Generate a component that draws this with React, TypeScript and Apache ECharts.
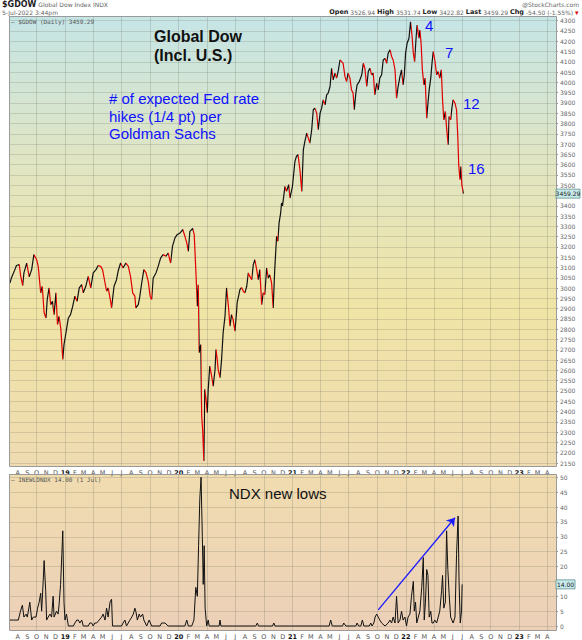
import React, { useEffect, useRef } from 'react';
import * as echarts from 'echarts';

// ---------- DATA ----------
const gdowDates = [
  '2018-07-07','2018-07-12','2018-07-23','2018-07-28','2018-08-06','2018-08-10','2018-08-17','2018-08-21','2018-08-30','2018-09-07','2018-09-15','2018-09-22','2018-10-01','2018-10-06','2018-10-14','2018-10-19','2018-10-25','2018-10-31','2018-11-04','2018-11-10','2018-11-15','2018-11-21','2018-11-26','2018-12-02','2018-12-07','2018-12-12','2018-12-18','2018-12-24','2018-12-28',
  '2019-01-05','2019-01-11','2019-01-18','2019-01-25','2019-02-01','2019-02-08','2019-02-15','2019-02-23','2019-02-28','2019-03-08','2019-03-16','2019-03-24','2019-04-01','2019-04-10','2019-04-17','2019-04-25','2019-05-01','2019-05-09','2019-05-14','2019-05-19','2019-05-27','2019-05-30','2019-06-07','2019-06-15','2019-06-20','2019-06-28','2019-07-06','2019-07-15','2019-07-23','2019-07-30','2019-08-06','2019-08-13','2019-08-16','2019-08-24','2019-08-29','2019-09-04','2019-09-11','2019-09-18','2019-09-25','2019-10-01','2019-10-06','2019-10-11','2019-10-20','2019-10-27','2019-11-04','2019-11-12','2019-11-21','2019-11-28','2019-12-06','2019-12-12','2019-12-20','2019-12-27',
  '2020-01-05','2020-01-14','2020-01-21','2020-01-27','2020-02-01','2020-02-06','2020-02-15','2020-02-20','2020-02-25','2020-03-01','2020-03-04','2020-03-07','2020-03-12','2020-03-15','2020-03-18','2020-03-22','2020-03-25','2020-03-29','2020-04-02','2020-04-05','2020-04-10','2020-04-16','2020-04-21','2020-04-27','2020-04-30','2020-05-04','2020-05-07','2020-05-13','2020-05-18','2020-05-23','2020-05-29','2020-06-03','2020-06-09','2020-06-14','2020-06-19','2020-06-24','2020-06-30','2020-07-05','2020-07-07','2020-07-16','2020-07-21','2020-07-27','2020-08-01','2020-08-07','2020-08-12','2020-08-17','2020-08-23','2020-08-28','2020-09-02','2020-09-08','2020-09-13','2020-09-18','2020-09-24','2020-09-29','2020-10-04','2020-10-10','2020-10-15','2020-10-20','2020-10-26','2020-10-31','2020-11-05','2020-11-11','2020-11-15','2020-11-19','2020-11-24','2020-11-27','2020-11-30','2020-12-08','2020-12-13','2020-12-20','2020-12-24',
  '2021-01-01','2021-01-09','2021-01-14','2021-01-19','2021-01-25','2021-01-31','2021-02-05','2021-02-10','2021-02-16','2021-02-21','2021-02-26','2021-03-04','2021-03-09','2021-03-14','2021-03-20','2021-03-25','2021-03-31','2021-04-05','2021-04-10','2021-04-16','2021-04-21','2021-04-26','2021-05-02','2021-05-07','2021-05-12','2021-05-18','2021-05-23','2021-05-28','2021-06-03','2021-06-08','2021-06-13','2021-06-19','2021-06-24','2021-06-29','2021-07-05','2021-07-10','2021-07-15','2021-07-19','2021-07-24','2021-07-28','2021-08-04','2021-08-12','2021-08-17','2021-08-22','2021-08-28','2021-09-02','2021-09-07','2021-09-13','2021-09-18','2021-09-23','2021-09-29','2021-10-04','2021-10-09','2021-10-15','2021-10-20','2021-10-26','2021-10-31','2021-11-05','2021-11-11','2021-11-16','2021-11-21','2021-11-27','2021-12-02','2021-12-07','2021-12-13','2021-12-18','2021-12-23','2021-12-27','2021-12-31',
  '2022-01-05','2022-01-11','2022-01-16','2022-01-21','2022-01-25','2022-01-29','2022-02-02','2022-02-06','2022-02-12','2022-02-15','2022-02-19','2022-02-23','2022-02-28','2022-03-04','2022-03-09','2022-03-13','2022-03-17','2022-03-22','2022-03-26','2022-03-30','2022-04-04','2022-04-10','2022-04-15','2022-04-20','2022-04-25','2022-04-29','2022-05-03','2022-05-08','2022-05-12','2022-05-17','2022-05-20','2022-05-25','2022-05-29','2022-06-02','2022-06-08','2022-06-13','2022-06-17','2022-06-20','2022-06-24','2022-06-27','2022-06-30','2022-07-05'
];
const gdowValues = [
  3025,3051,3090,3110,3115,3065,3012,3074,3122,3055,3090,3163,3138,3106,2977,3009,2880,2855,2945,3001,2920,2936,2871,2977,2823,2863,2799,2653,2726,
  2799,2855,2871,2912,2961,2936,3001,3017,2977,3009,3057,3001,3074,3090,3110,3106,3090,3025,2985,3001,2936,2904,3009,3041,3082,3122,3098,3122,3106,3057,2977,2961,2904,2920,2961,3025,3090,3074,3033,2961,2945,3049,3074,3106,3147,3163,3155,3171,3122,3203,3244,3260,
  3268,3285,3252,3220,3179,3276,3290,3260,3090,2912,3017,2686,2726,2378,2313,2160,2508,2459,2394,2508,2621,2573,2524,2605,2702,2653,2605,2565,2653,2783,2863,3001,2912,2815,2871,2847,2791,2880,2928,2993,3003,2985,2977,3009,3074,3057,3041,3114,3138,3090,3041,3090,2920,2977,2969,3098,3049,3065,3025,2904,3090,3252,3228,3317,3365,3414,3400,3495,3471,3503,3438,
  3495,3616,3641,3649,3576,3470,3672,3713,3753,3729,3705,3770,3867,3875,3851,3770,3851,3875,3915,3891,3939,3948,3980,4069,4012,4045,4021,4053,4109,4101,4093,4029,4004,4045,4021,3964,3948,3867,3948,3988,4004,4037,4093,4069,3980,4053,4069,4037,4045,3939,3996,3964,4021,4037,4109,4117,4093,4142,4158,4126,4109,4061,3923,3980,4029,4061,3988,4037,4142,
  4190,4215,4295,4223,4142,4101,4198,4279,4215,4255,4190,4061,3988,4021,3826,3899,3964,4021,4093,4150,4109,4037,4053,4021,4061,3915,3818,3859,3778,3697,3834,3818,3875,3915,3899,3867,3737,3599,3527,3591,3503,3459.29
];

const newLowDates = [
  '2018-07-07','2018-07-18','2018-07-23','2018-08-03','2018-08-10','2018-08-16','2018-08-21','2018-08-28','2018-09-01','2018-09-09','2018-09-15','2018-09-20','2018-09-29','2018-10-04','2018-10-09','2018-10-14','2018-10-17','2018-10-22','2018-10-25','2018-10-30','2018-11-02','2018-11-07','2018-11-13','2018-11-18','2018-11-23','2018-11-26','2018-12-04','2018-12-09','2018-12-12','2018-12-17','2018-12-21','2018-12-24','2018-12-28','2018-12-31',
  '2019-01-05','2019-01-11','2019-01-27','2019-02-01','2019-02-07','2019-02-12','2019-02-17','2019-02-23','2019-02-28','2019-03-16','2019-03-21','2019-03-27','2019-04-01','2019-04-06','2019-04-12','2019-04-20','2019-04-28','2019-05-03','2019-05-09','2019-05-14','2019-05-19','2019-05-25','2019-05-30','2019-06-02','2019-07-01','2019-07-06','2019-07-12','2019-07-17','2019-07-28','2019-08-03','2019-08-08','2019-08-13','2019-08-16','2019-08-21','2019-08-27','2019-08-31','2019-09-07','2019-09-11','2019-09-20','2019-09-28','2019-10-06','2019-11-02','2019-11-07','2019-11-18','2019-11-28',
  '2020-01-21','2020-01-27','2020-02-01','2020-02-12','2020-02-19','2020-02-25','2020-03-01','2020-03-05','2020-03-09','2020-03-13','2020-03-17','2020-03-20','2020-03-23','2020-03-26','2020-03-31','2020-04-05','2020-04-08','2020-05-10','2020-05-13','2020-05-16','2020-09-05','2020-09-10','2020-09-14','2020-10-29','2020-11-02','2020-11-06',
  '2021-04-29','2021-05-04','2021-05-09','2021-06-11','2021-06-15','2021-06-22','2021-07-24','2021-07-28','2021-08-02','2021-08-09','2021-08-14','2021-08-19','2021-09-05','2021-09-10','2021-09-14','2021-09-20','2021-09-24','2021-09-29','2021-10-04','2021-10-09','2021-10-15','2021-10-26','2021-11-05','2021-11-11','2021-11-16','2021-11-21','2021-11-27','2021-12-02','2021-12-07','2021-12-13','2021-12-18','2021-12-23','2021-12-29',
  '2022-01-03','2022-01-08','2022-01-14','2022-01-19','2022-01-25','2022-01-28','2022-02-01','2022-02-05','2022-02-10','2022-02-15','2022-02-21','2022-02-26','2022-03-01','2022-03-05','2022-03-09','2022-03-13','2022-03-17','2022-03-22','2022-03-26','2022-03-30','2022-04-04','2022-04-10','2022-04-15','2022-04-20','2022-04-26','2022-04-29','2022-05-03','2022-05-08','2022-05-12','2022-05-16','2022-05-20','2022-05-25','2022-05-29','2022-06-02','2022-06-08','2022-06-13','2022-06-18','2022-06-21','2022-06-25','2022-06-29','2022-07-01'
];
const newLowValues = [
  2,2,2,2,5,7,3,4,3,8,2,3,3,6,8,11,5,15,22,12,2,3,4,3,10,3,5,4,7,14,24,32,8,2,
  4,0,0,1,2,2,1,2,0,0,1,1,0,1,1,2,3,4,2,6,3,8,9,0,0,1,2,0,2,3,4,6,5,2,4,3,4,2,0,2,0,0,1,1,0,
  0,2,0,0,2,13,10,27,43,50,30,14,27,6,0,2,0,0,2,0,0,1,0,0,1,0,
  0,2,0,0,1,0,0,1,0,0,2,0,0,1,0,1,3,4,3,2,1,0,1,2,1,3,1,10,1,2,5,2,3,
  0,3,4,10,15,5,8,1,3,5,13,23,2,8,19,17,3,5,1,1,2,1,3,5,12,17,6,8,32,19,11,3,2,1,3,24,37,15,1,5,14
];

const monthLetters = ['J','F','M','A','M','J','J','A','S','O','N','D'];
const xRange = ['2018-07-04', '2023-04-29'];
const gdowAxis = { min: 2150, max: 4300, step: 50 };
const lowsAxis = { min: 0, max: 50, step: 5 };
const arrowFrom: [string, number] = ['2021-10-04', 5.4];
const arrowTo: [string, number] = ['2022-06-08', 36.4];

// ---------- LAYOUT ----------
const PL = 9, PR = 556;
const T1 = 16, B1 = 466, T2 = 474, B2 = 630;
const SANS = 'Liberation Sans, Arial, sans-serif';
const SMALL = 'DejaVu Sans, Verdana, sans-serif';
const MONO = 'DejaVu Sans Mono, monospace';

export default function App() {
  const ref = useRef<HTMLDivElement>(null);
  useEffect(() => {
    document.body.style.margin = '0';
    const chart = echarts.init(ref.current!, null, { renderer: 'svg' });
    const P = (s: string) => +(echarts as any).time.parse(s);
    const DAY = 86400000;
    const gdow = gdowDates.map((d, i) => [P(d), gdowValues[i]]);
    const lows = newLowDates.map((d, i) => [P(d), newLowValues[i]]);
    const lastG = gdowValues[gdowValues.length - 1];
    const lastL = newLowValues[newLowValues.length - 1];
    const pieces: any[] = [];
    for (let i = 1; i < gdow.length; i++) {
      pieces.push({ gt: gdow[i - 1][0], lte: gdow[i][0], color: gdow[i][1] >= gdow[i - 1][1] ? '#111111' : '#e00000' });
    }
    const xMin = P(xRange[0]), xMax = P(xRange[1]);
    const monthFmt = (v: number) => {
      const d = new Date(v);
      if (d.getDate() !== 1) return '';
      const m = d.getMonth();
      return m === 0 ? '{y|' + String(d.getFullYear()).slice(2) + '}' : monthLetters[m];
    };
    const labelAxis = (gridIndex: number) => ({
      type: 'time', gridIndex, min: xMin, max: xMax, position: 'bottom',
      splitNumber: 60, minInterval: 29 * DAY, maxInterval: 29 * DAY,
      axisLine: { show: false }, axisTick: { show: false }, splitLine: { show: false },
      axisLabel: {
        margin: 3, fontSize: 6.5, color: '#555', fontFamily: SMALL, formatter: monthFmt, hideOverlap: false,
        rich: { y: { fontSize: 6.5, fontWeight: 'bold', color: '#111', fontFamily: SMALL } },
      },
    });
    const quarterAxis = (gridIndex: number) => ({
      type: 'time', gridIndex, min: xMin, max: xMax, position: 'top',
      splitNumber: 20, minInterval: 92 * DAY, maxInterval: 92 * DAY,
      axisLine: { show: false }, axisTick: { show: false }, axisLabel: { show: false },
      splitLine: { show: true, lineStyle: { color: 'rgba(110,115,95,0.25)', width: 1 } },
    });
    const hiddenX = (gridIndex: number) => ({ type: 'time', gridIndex, min: xMin, max: xMax, show: false });
    // labels hidden where the last-value box sits on the axis
    const valueAxis = (gridIndex: number, a: any, last: number) => ({
      type: 'value', gridIndex, position: 'right', min: a.min, max: a.max, interval: a.step,
      axisLine: { show: false },
      axisTick: { show: true, length: 2, lineStyle: { color: '#999' } },
      axisLabel: { margin: 4, fontSize: 6, color: '#666', fontFamily: SMALL,
        formatter: (v: number) => (Math.abs(v - last) < a.step / 2 ? '' : String(v)) },
      splitLine: { show: true, lineStyle: { color: 'rgba(110,115,95,0.22)', width: 1 } },
    });

    const txt = (id: string, x: number, y: number, text: string, font: string, fill: string, extra: any = {}) => ({
      type: 'text', id, x, y, z: 100,
      style: { text, font, fill, textVerticalAlign: 'middle', verticalAlign: 'middle', ...extra },
    });

    const baseGraphics: any[] = [
      { type: 'rect', id: 'bg1', z: -100, shape: { x: PL, y: T1, width: PR - PL, height: B1 - T1 },
        style: { fill: new echarts.graphic.LinearGradient(0, 0, 0, 1, [
          { offset: 0, color: '#c5e5e6' }, { offset: 0.35, color: '#e2e5c0' },
          { offset: 0.65, color: '#f0e4a6' }, { offset: 1, color: '#efdbb1' }]) } },
      { type: 'rect', id: 'bg2', z: -100, shape: { x: PL, y: T2, width: PR - PL, height: B2 - T2 },
        style: { fill: new echarts.graphic.LinearGradient(0, 0, 0, 1, [
          { offset: 0, color: '#f0dcaf' }, { offset: 1, color: '#ecd0b8' }]) } },
      { type: 'rect', id: 'bd1', z: 60, shape: { x: PL + 0.5, y: T1 + 0.5, width: PR - PL, height: B1 - T1 },
        style: { fill: 'none', stroke: '#9a9a9a', lineWidth: 1 } },
      { type: 'rect', id: 'bd2', z: 60, shape: { x: PL + 0.5, y: T2 + 0.5, width: PR - PL, height: B2 - T2 },
        style: { fill: 'none', stroke: '#9a9a9a', lineWidth: 1 } },
      // header
      { type: 'text', id: 'h1', x: 2, y: 4, z: 100, style: {
        text: '{b|$GDOW} Global Dow Index INDX', fill: '#666', font: '6px ' + SMALL,
        textVerticalAlign: 'middle', verticalAlign: 'middle',
        rich: { b: { fontWeight: 'bold', fontSize: 8, fill: '#222', fontFamily: SMALL } } } },
      txt('h2', 2, 12, '5-Jul-2022 3:44pm', '6px ' + SMALL, '#666'),
      txt('h3', 579, 4, '@StockCharts.com', '6px ' + SMALL, '#666', { textAlign: 'right', align: 'right' }),
      { type: 'text', id: 'h4', x: 579, y: 12, z: 100, style: {
        text: '{b|Open} 3526.94 {b|High} 3531.74 {b|Low} 3422.82 {b|Last} 3459.29 {b|Chg} -54.50 (-1.55%) {r|▾}',
        fill: '#666', font: '6px ' + SMALL, textAlign: 'right', align: 'right',
        textVerticalAlign: 'middle', verticalAlign: 'middle',
        rich: { b: { fontWeight: 'bold', fontSize: 6.5, fill: '#222', fontFamily: SMALL }, r: { fill: '#d00', fontSize: 7 } } } },
      txt('lg1', 11, 21, '— $GDOW (Daily) 3459.29', '6px ' + MONO, '#555'),
      txt('lg2', 11, 479, '— INEWLONDX 14.00 (1 Jul)', '6px ' + MONO, '#555'),
      // annotations
      txt('a1', 154, 46, 'Global Dow\n(Incl. U.S.)', 'bold 16px ' + SANS, '#111', { lineHeight: 19 }),
      txt('a2', 109, 116, '# of expected Fed rate\nhikes (1/4 pt) per\nGoldman Sachs', '15px ' + SANS, '#1010ff', { lineHeight: 17.5 }),
      txt('n4', 425, 25, '4', '15px ' + SANS, '#1010ff'),
      txt('n7', 445, 52, '7', '15px ' + SANS, '#1010ff'),
      txt('n12', 463, 103, '12', '15px ' + SANS, '#1010ff'),
      txt('n16', 468, 168, '16', '15px ' + SANS, '#1010ff'),
      txt('ndx', 229, 493, 'NDX new lows', '15px ' + SANS, '#111'),
    ];

    const option: any = {
      animation: false,
      grid: [
        { left: PL, width: PR - PL, top: T1, height: B1 - T1 },
        { left: PL, width: PR - PL, top: 20.7, height: 463 - 20.7 },
        { left: PL, width: PR - PL, top: T2, height: B2 - T2 },
        { left: PL, width: PR - PL, top: 477.3, height: 626 - 477.3 },
      ],
      xAxis: [labelAxis(0), quarterAxis(0), hiddenX(1), labelAxis(2), quarterAxis(2), hiddenX(3)],
      yAxis: [
        { type: 'value', gridIndex: 0, show: false },
        valueAxis(1, gdowAxis, lastG),
        { type: 'value', gridIndex: 2, show: false },
        valueAxis(3, lowsAxis, lastL),
      ],
      visualMap: [{ type: 'piecewise', show: false, seriesIndex: 0, dimension: 0, pieces, outOfRange: { color: '#111' } }],
      series: [
        { type: 'line', name: '$GDOW', xAxisIndex: 2, yAxisIndex: 1, data: gdow, showSymbol: false, clip: false,
          lineStyle: { width: 1.2 }, z: 5 },
        { type: 'line', name: 'INEWLONDX', xAxisIndex: 5, yAxisIndex: 3, data: lows, showSymbol: false, clip: false,
          lineStyle: { width: 1, color: '#111' }, itemStyle: { color: '#111' }, z: 5,
          markLine: { silent: true, symbol: ['none', 'arrow'], symbolSize: 8, animation: false,
            lineStyle: { color: '#1a1aff', width: 1.3, type: 'solid' }, label: { show: false },
            data: [[{ coord: [P(arrowFrom[0]), arrowFrom[1]] }, { coord: [P(arrowTo[0]), arrowTo[1]] }]] } },
      ],
      graphic: baseGraphics,
    };
    chart.setOption(option);

    const yG = chart.convertToPixel({ yAxisIndex: 1 } as any, lastG) as number;
    const yL = chart.convertToPixel({ yAxisIndex: 3 } as any, lastL) as number;
    const box = (id: string, y: number, label: string, w: number) => ({
      type: 'group', id, z: 110, children: [
        { type: 'rect', z: 110, shape: { x: PR, y: y - 4.5, width: w, height: 9 }, style: { fill: '#c8eaea', stroke: '#5f9090', lineWidth: 0.8 } },
        { type: 'text', z: 111, x: PR + w / 2, y, style: { text: label, font: '6px ' + SMALL, fill: '#222', textAlign: 'center', align: 'center', textVerticalAlign: 'middle', verticalAlign: 'middle' } },
      ],
    });
    chart.setOption({ graphic: [...baseGraphics, box('vb1', yG, lastG.toFixed(2), 24), box('vb2', yL, lastL.toFixed(2), 19)] });

    return () => chart.dispose();
  }, []);
  return <div ref={ref} style={{ position: 'absolute', left: 0, top: 0, width: 582, height: 640 }} />;
}
